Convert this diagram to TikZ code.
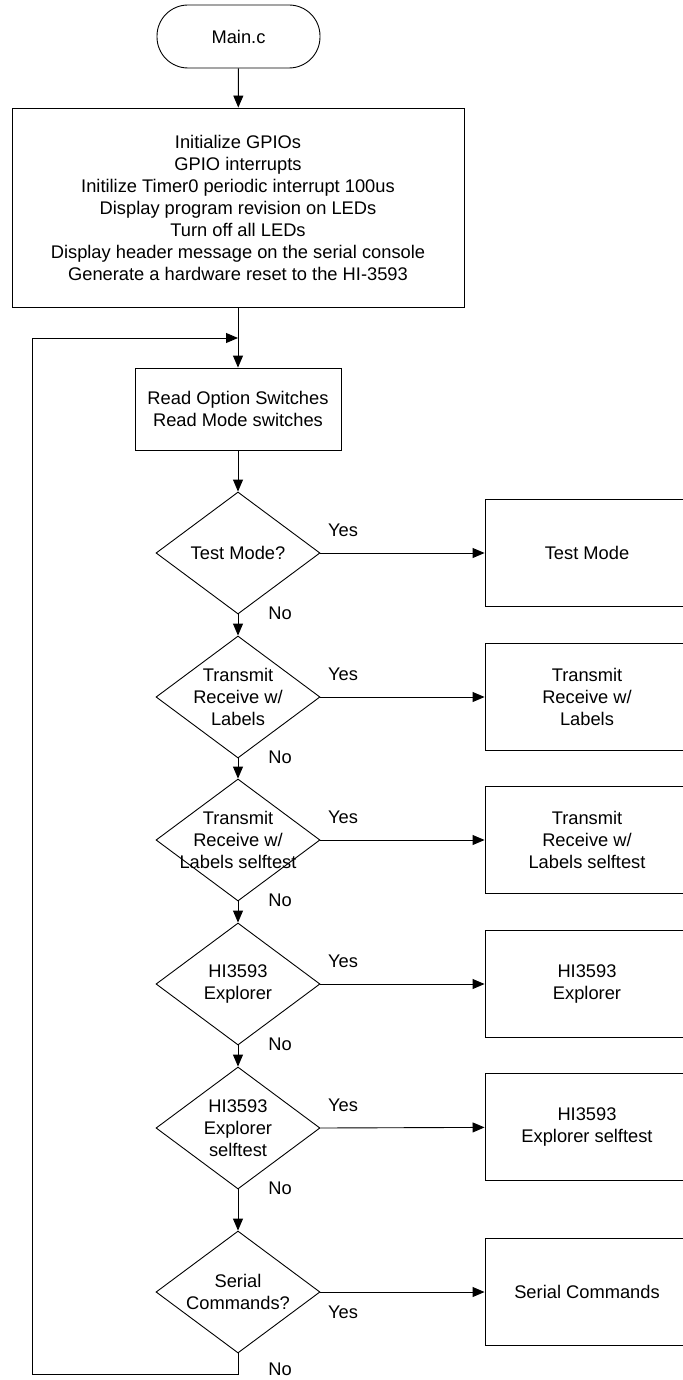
\documentclass[tikz,border=0pt]{standalone}
\usepackage{fontspec}
\setmainfont{Liberation Sans}
\usetikzlibrary{positioning, shapes.geometric, arrows.meta}

\tikzset{
  term/.style={draw, rectangle, rounded corners=31pt, minimum width=163pt, minimum height=63pt},
  procbox/.style={draw, rectangle, align=center},
  modebox/.style={draw, rectangle, align=center, minimum width=204pt, minimum height=107pt},
  decision/.style={draw, diamond, minimum width=164pt, minimum height=122pt, inner sep=0pt},
  txt/.style={align=center, inner sep=0pt},
}

\begin{document}
\begin{tikzpicture}[x=1pt, y=-1pt, line width=0.9pt,
    >={Triangle[length=12pt, width=10pt]},
    every node/.style={font=\fontsize{18.3}{22}\selectfont}]
  \useasboundingbox (0,0) rectangle (682,1380);

  \node[term] (main) at (238.5,36.5) {Main.c};
  \node[procbox, minimum width=452pt, minimum height=199pt] (init) at (238,207.5)
    {Initialize GPIOs\\GPIO interrupts\\Initilize Timer0 periodic interrupt 100us\\
     Display program revision on LEDs\\Turn off all LEDs\\
     Display header message on the serial console\\Generate a hardware reset to the HI-3593};
  \draw[->] (main) -- (init);

  \node[procbox, minimum width=206pt, minimum height=82pt] (read) at (238,409)
    {Read Option Switches\\Read Mode switches};
  \draw[->] (init) -- (read);

  % decisions
  \node[decision] (d1) at (238,553) {};
  \node[txt] (d1t) at (d1) {Test Mode?};
  \node[decision] (d2) at (238,697) {};
  \node[txt] (d2t) at (d2) {Transmit\\Receive w/\\Labels};
  \node[decision] (d3) at (238,840) {};
  \node[txt] (d3t) at (d3) {Transmit\\Receive w/\\Labels selftest};
  \node[decision] (d4) at (238,984) {};
  \node[txt] (d4t) at (d4) {HI3593\\Explorer};
  \node[decision] (d5) at (238,1128) {};
  \node[txt] (d5t) at (d5) {HI3593\\Explorer\\selftest};
  \node[decision] (d6) at (238,1292) {};
  \node[txt] (d6t) at (d6) {Serial\\Commands?};

  % modes
  \node[modebox] (m1) at (587,553) {Test Mode};
  \node[modebox] (m2) at (587,697) {Transmit\\Receive w/\\Labels};
  \node[modebox] (m3) at (587,840) {Transmit\\Receive w/\\Labels selftest};
  \node[modebox] (m4) at (587,984) {HI3593\\Explorer};
  \node[modebox] (m5) at (587,1127) {HI3593\\Explorer selftest};
  \node[modebox] (m6) at (587,1292) {Serial Commands};

  \draw[->] (read) -- (d1);
  \draw[->] (d1) -- (d2);
  \draw[->] (d2) -- (d3);
  \draw[->] (d3) -- (d4);
  \draw[->] (d4) -- (d5);
  \draw[->] (d5) -- (d6);

  \draw[->] (d1.east) -- (m1);
  \draw[->] (d2.east) -- (m2);
  \draw[->] (d3.east) -- (m3);
  \draw[->] (d4.east) -- (m4);
  \draw[->] (d5.east) -- (m5);
  \draw[->] (d6.east) -- (m6);

  % yes / no
  \node (y1) at (343,530) {Yes};
  \node (y2) at (343,674) {Yes};
  \node (y3) at (343,817) {Yes};
  \node (y4) at (343,961) {Yes};
  \node (y5) at (343,1105) {Yes};
  \node (y6) at (343,1312) {Yes};
  \node (n1) at (280,613) {No};
  \node (n2) at (280,757) {No};
  \node (n3) at (280,900) {No};
  \node (n4) at (280,1044) {No};
  \node (n5) at (280,1188) {No};
  \node (n6) at (280,1369) {No};

  % loop back
  \coordinate (loopbot) at (238,1374);
  \coordinate (loopleft) at (32,1374);
  \coordinate (looptop) at (238,338);
  \draw[->] (d6.south) -- (loopbot) -- (loopleft) |- (looptop);
\end{tikzpicture}
\end{document}
